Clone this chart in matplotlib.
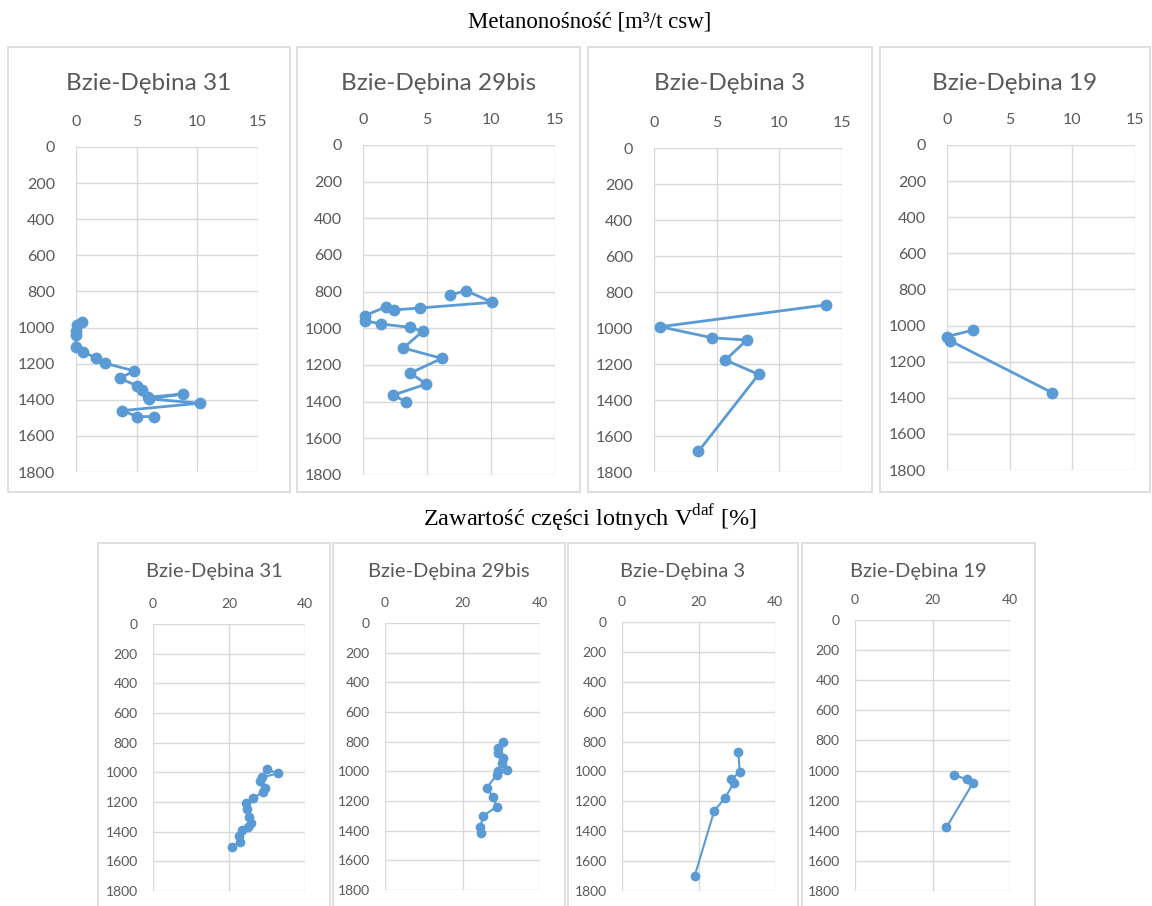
import numpy as np
import matplotlib.pyplot as plt
from matplotlib.patches import Rectangle

wells = ["Bzie-Dębina 31", "Bzie-Dębina 29bis", "Bzie-Dębina 3", "Bzie-Dębina 19"]

# methane content [m3/t csw] vs depth [m]
ch4_depth_31 = [970, 985, 1020, 1040, 1105, 1133, 1170, 1198, 1240, 1281, 1323, 1345, 1386, 1368, 1395, 1419, 1460, 1493, 1493]
ch4_31 = [0.5, 0.1, 0.0, 0.0, 0.0, 0.6, 1.65, 2.4, 4.8, 3.6, 5.05, 5.4, 5.9, 8.85, 6.0, 10.2, 3.8, 5.05, 6.45]
ch4_depth_29 = [818, 795, 858, 889, 900, 882, 931, 958, 976, 995, 1017, 1107, 1164, 1244, 1304, 1364, 1400]
ch4_29 = [6.8, 8.05, 10.1, 4.45, 2.4, 1.8, 0.15, 0.15, 1.4, 3.7, 4.65, 3.15, 6.15, 3.7, 4.95, 2.35, 3.35]
ch4_depth_3 = [872, 993, 1054, 1067, 1178, 1258, 1685]
ch4_3 = [13.7, 0.5, 4.6, 7.4, 5.7, 8.35, 3.55]
ch4_depth_19 = [1025, 1061, 1085, 1372]
ch4_19 = [2.1, 0.0, 0.27, 8.4]

# volatile matter Vdaf [%] vs depth [m]
vm_depth_31 = [980, 1007, 1034, 1056, 1108, 1130, 1175, 1209, 1249, 1299, 1344, 1371, 1389, 1429, 1467, 1506]
vm_31 = [29.9, 33.0, 28.6, 28.2, 29.5, 29.0, 26.4, 24.4, 24.7, 25.3, 25.8, 25.0, 23.4, 22.5, 22.9, 20.7]
vm_depth_29 = [799, 844, 877, 911, 945, 990, 1001, 1024, 1114, 1170, 1238, 1300, 1377, 1413]
vm_29 = [30.5, 29.2, 29.2, 30.5, 30.1, 31.4, 29.2, 28.8, 26.2, 27.9, 28.8, 25.4, 24.5, 24.7]
vm_depth_3 = [870, 1004, 1051, 1074, 1179, 1264, 1700]
vm_3 = [30.4, 30.8, 28.6, 29.3, 26.9, 24.1, 19.0]
vm_depth_19 = [1029, 1058, 1080, 1377]
vm_19 = [25.5, 28.8, 30.5, 23.6]

ch4_data = [(ch4_31, ch4_depth_31), (ch4_29, ch4_depth_29), (ch4_3, ch4_depth_3), (ch4_19, ch4_depth_19)]
vm_data = [(vm_31, vm_depth_31), (vm_29, vm_depth_29), (vm_3, vm_depth_3), (vm_19, vm_depth_19)]

W, H = 1152, 906
fig = plt.figure(figsize=(W / 100, H / 100), dpi=100)
plt.rcParams['font.family'] = ['Lato', 'DejaVu Sans']

blue = "#5B9BD5"
grey = "#595959"
gridc = "#D9D9D9"


def px_axes(x0, y0, x1, y1):
    return fig.add_axes([x0 / W, 1 - y1 / H, (x1 - x0) / W, (y1 - y0) / H])


def frame(x0, y0, x1, y1):
    fig.patches.append(Rectangle((x0 / W, 1 - y1 / H), (x1 - x0) / W, (y1 - y0) / H,
                                 transform=fig.transFigure, fill=False,
                                 edgecolor=gridc, lw=1.2))


def style(ax, xmax, xstep, fs, xpad, ypad):
    ax.set_xlim(0, xmax)
    ax.set_ylim(1800, 0)
    ax.set_xticks(np.arange(0, xmax + 1, xstep))
    ax.set_yticks(np.arange(0, 1801, 200))
    ax.xaxis.tick_top()
    ax.tick_params(length=0, labelsize=fs, labelcolor=grey)
    ax.tick_params(axis="x", pad=xpad)
    ax.tick_params(axis="y", pad=ypad)
    ax.grid(True, color=gridc, lw=1.0)
    ax.set_axisbelow(True)
    for s in ax.spines.values():
        s.set_visible(False)


# top row: methane content
top_frames = [(8, 47, 290, 492), (297, 47, 580, 492), (588, 47, 872, 492), (880, 47, 1150, 492)]
top_axes = [(76, 147, 258, 472), (363, 145, 555, 475), (654, 148, 842, 472), (947, 145, 1135, 470)]
for i in range(4):
    frame(*top_frames[i])
    ax = px_axes(*top_axes[i])
    style(ax, 15, 5, 11.5, 13, 15)
    x, d = ch4_data[i]
    ax.plot(x, d, color=blue, lw=2.0, marker="o", ms=7.5, clip_on=False)
    fx0, fy0, fx1, fy1 = top_frames[i]
    fig.text((fx0 + fx1) / 2 / W, 1 - 83 / H, wells[i], ha="center", va="center",
             fontsize=17.5, color=grey)

# bottom row: volatile matter
bot_frames = [(98, 543, 330, 910), (333, 543, 565, 910), (568, 543, 798, 910), (802, 543, 1035, 910)]
bot_axes = [(153, 624, 305, 891), (385, 623, 540, 890), (622, 622, 775, 891), (855, 620, 1010, 891)]
for i in range(4):
    frame(*bot_frames[i])
    ax = px_axes(*bot_axes[i])
    style(ax, 40, 20, 10, 10, 11)
    x, d = vm_data[i]
    ax.plot(x, d, color=blue, lw=1.5, marker="o", ms=6, clip_on=False)
    fx0, fy0, fx1, fy1 = bot_frames[i]
    fig.text((fx0 + fx1) / 2 / W, 1 - 572 / H, wells[i], ha="center", va="center",
             fontsize=14.5, color=grey)

fig.text(590 / W, 1 - 22 / H, "Metanonośność [m³/t csw]", ha="center", va="center",
         fontsize=16.5, family=["Liberation Serif", "DejaVu Serif"])
fig.text(590 / W, 1 - 518 / H, r"Zawartość części lotnych V$^{\mathregular{daf}}$ [%]",
         ha="center", va="center", fontsize=17.5, family=["Liberation Serif", "DejaVu Serif"])

fig.savefig("out.png", dpi=100, facecolor="white")
